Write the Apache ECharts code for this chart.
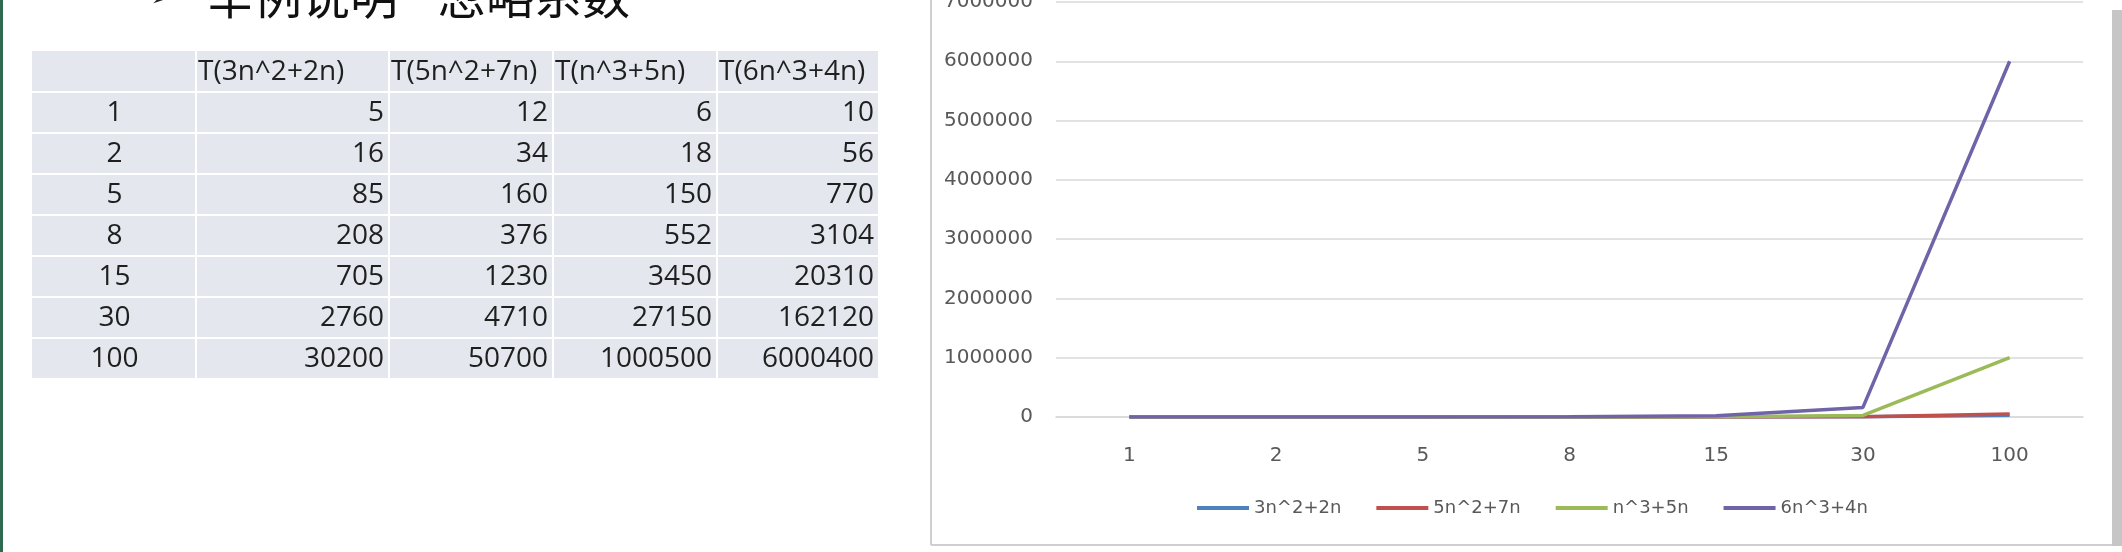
<!DOCTYPE html>
<html>
<head>
<meta charset="utf-8">
<style>
  html, body { margin: 0; padding: 0; background: #fff; }
  #main { width: 2122px; height: 552px; }
</style>
<script src="https://cdn.jsdelivr.net/npm/echarts@6/dist/echarts.min.js"></script>
</head>
<body>
<div id="main"></div>
<script>
// data
const sizes = ['1', '2', '5', '8', '15', '30', '100']
const seriesNames = ['3n^2+2n', '5n^2+7n', 'n^3+5n', '6n^3+4n']
const tableHeaders = ['T(3n^2+2n)', 'T(5n^2+7n)', 'T(n^3+5n)', 'T(6n^3+4n)']
const quad3 = [5, 16, 85, 208, 705, 2760, 30200]
const quad5 = [12, 34, 160, 376, 1230, 4710, 50700]
const cube1 = [6, 18, 150, 552, 3450, 27150, 1000500]
const cube6 = [10, 56, 770, 3104, 20310, 162120, 6000400]
const yTicks = { min: 0, max: 7000000, step: 1000000 }

const titleParts = ['➢', '举例说明', '忽略系数']
const colors = ['#4f81bd', '#c0504d', '#9bbb59', '#7064a8']
const allSeries = [quad3, quad5, cube1, cube6]

const chart = echarts.init(document.getElementById('main'))

// table on the left, drawn with graphic elements
const colEdges = [32, 197, 390, 554, 718, 880]
const rowTop = 51
const headH = 42
const rowH = 41
const cellFill = '#e4e8ee'
const tableFont = '28px "Open Sans"'
const textColor = '#1f1f1f'
let graphics = []

// slide frame bits
graphics.push({ type: 'rect', shape: { x: 0, y: 0, width: 3, height: 552 }, style: { fill: '#2d6a4f' } })
graphics.push({ type: 'line', shape: { x1: 931, y1: 0, x2: 931, y2: 545 }, style: { stroke: '#cfcfcf', lineWidth: 2 } })
graphics.push({ type: 'line', shape: { x1: 931, y1: 545, x2: 2113, y2: 545 }, style: { stroke: '#cfcfcf', lineWidth: 2 } })
graphics.push({ type: 'rect', shape: { x: 2112, y: 10, width: 10, height: 536 }, style: { fill: '#c6c6c6' } })

// title (top is cut off in the original)
graphics.push({ type: 'text', x: 150, y: -2, style: { text: titleParts[0], font: '30px "DejaVu Sans"', fill: '#222', verticalAlign: 'middle' } })
graphics.push({ type: 'text', x: 206, y: -4, style: { text: titleParts[1], font: '48px "Noto Sans CJK SC"', fill: '#111', verticalAlign: 'middle' } })
graphics.push({ type: 'text', x: 438, y: -4, style: { text: titleParts[2], font: '48px "Noto Sans CJK SC"', fill: '#111', verticalAlign: 'middle' } })

// header row
for (let c = 0; c < 5; c++) {
  graphics.push({
    type: 'rect',
    shape: { x: colEdges[c], y: rowTop, width: colEdges[c + 1] - colEdges[c] - 2, height: headH - 2 },
    style: { fill: cellFill }
  })
  if (c > 0) {
    graphics.push({
      type: 'text', x: colEdges[c] + 1, y: rowTop + headH / 2,
      style: { text: tableHeaders[c - 1], font: tableFont, fill: textColor, verticalAlign: 'middle', align: 'left' }
    })
  }
}

// body rows
sizes.forEach((n, r) => {
  const y0 = rowTop + headH + r * rowH
  for (let c = 0; c < 5; c++) {
    graphics.push({
      type: 'rect',
      shape: { x: colEdges[c], y: y0, width: colEdges[c + 1] - colEdges[c] - 2, height: rowH - 2 },
      style: { fill: cellFill }
    })
  }
  graphics.push({
    type: 'text', x: (colEdges[0] + colEdges[1]) / 2, y: y0 + rowH / 2,
    style: { text: n, font: tableFont, fill: textColor, align: 'center', verticalAlign: 'middle' }
  })
  allSeries.forEach((vals, s) => {
    graphics.push({
      type: 'text', x: colEdges[s + 2] - 6, y: y0 + rowH / 2,
      style: { text: String(vals[r]), font: tableFont, fill: textColor, align: 'right', verticalAlign: 'middle' }
    })
  })
})

const option = {
  backgroundColor: '#fff',
  animation: false,
  color: colors,
  graphic: graphics,
  grid: {
    left: 1056,
    right: 39,
    top: 2,
    bottom: 135,
    containLabel: false,
    outerBoundsMode: 'none'
  },
  legend: {
    data: seriesNames,
    left: 1192,
    top: 494,
    icon: 'rect',
    itemWidth: 52,
    itemHeight: 4,
    itemGap: 35,
    textStyle: { color: '#595959', fontSize: 18, fontFamily: 'DejaVu Sans' }
  },
  xAxis: {
    type: 'category',
    data: sizes,
    boundaryGap: true,
    axisTick: { show: false },
    axisLine: { lineStyle: { color: '#d9d9d9', width: 1.5 } },
    axisLabel: { color: '#595959', fontSize: 20, fontFamily: 'DejaVu Sans', margin: 29 }
  },
  yAxis: {
    type: 'value',
    min: yTicks.min,
    max: yTicks.max,
    interval: yTicks.step,
    axisLine: { show: false },
    axisTick: { show: false },
    splitLine: { lineStyle: { color: '#d9d9d9', width: 1.5 } },
    axisLabel: {
      color: '#595959', fontSize: 20, fontFamily: 'DejaVu Sans', margin: 23,
      formatter: v => String(v)
    }
  },
  series: seriesNames.map((name, i) => ({
    name: name,
    type: 'line',
    data: allSeries[i],
    symbol: 'none',
    lineStyle: { width: 3.5, color: colors[i] },
    itemStyle: { color: colors[i] }
  }))
}

chart.setOption(option)
</script>
</body>
</html>
